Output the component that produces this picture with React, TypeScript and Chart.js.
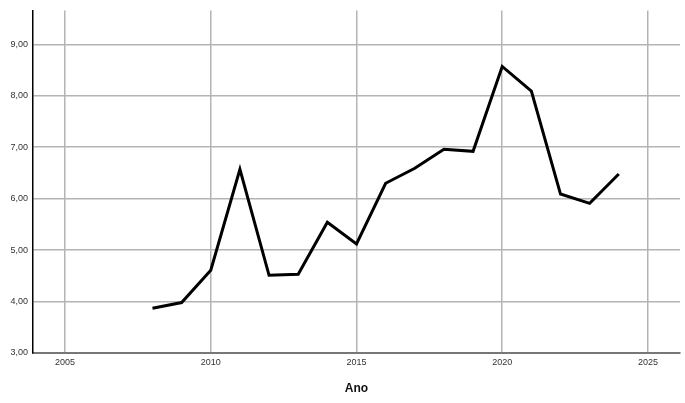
import React, { useEffect, useRef } from "react";
import { Chart, registerables } from "chart.js";

Chart.register(...registerables);

const years = [2008, 2009, 2010, 2011, 2012, 2013, 2014, 2015, 2016, 2017, 2018, 2019, 2020, 2021, 2022, 2023, 2024];
const values = [3.87, 3.98, 4.61, 6.57, 4.51, 4.53, 5.54, 5.12, 6.30, 6.59, 6.96, 6.92, 8.57, 8.09, 6.09, 5.91, 6.48];
const xTicks = [2005, 2010, 2015, 2020, 2025];
const yTicks = [3, 4, 5, 6, 7, 8, 9];
const xTitle = "Ano";

export default function App() {
  const ref = useRef<HTMLCanvasElement | null>(null);
  useEffect(() => {
    if (!ref.current) return;
    const chart = new Chart(ref.current, {
      type: "line",
      data: {
        datasets: [
          {
            data: years.map((y, i) => ({ x: y, y: values[i] })),
            borderColor: "#000",
            borderWidth: 3,
            pointRadius: 0,
            tension: 0,
            fill: false,
          },
        ],
      },
      options: {
        animation: false,
        responsive: false,
        layout: { padding: { top: 10, right: 5, left: 0, bottom: 3 } },
        plugins: { legend: { display: false }, tooltip: { enabled: false } },
        scales: {
          x: {
            type: "linear",
            min: 2003.9,
            max: 2026.1,
            afterBuildTicks: (s: any) => {
              s.ticks = xTicks.map((v) => ({ value: v }));
            },
            afterFit: (s: any) => {
              s.height = 47;
            },
            ticks: {
              callback: (v: any) => String(v),
              color: "#333",
              font: { family: "Liberation Sans", size: 9 },
              padding: 4,
              maxRotation: 0,
            },
            grid: { color: "#b4b4b4", lineWidth: 1.5, drawTicks: false },
            border: { color: "#777", width: 2 },
            title: {
              display: true,
              text: xTitle,
              color: "#111",
              font: { family: "Liberation Sans", size: 12, weight: "bold" },
              padding: { top: 10 },
            },
          },
          y: {
            type: "linear",
            min: 3,
            max: 9.66,
            afterBuildTicks: (s: any) => {
              s.ticks = yTicks.map((v) => ({ value: v }));
            },
            afterFit: (s: any) => {
              s.width = 33;
            },
            ticks: {
              callback: (v: any) => Number(v).toFixed(2).replace(".", ","),
              color: "#333",
              font: { family: "Liberation Sans", size: 9 },
              padding: 5,
            },
            grid: { color: "#b4b4b4", lineWidth: 1.5, drawTicks: false },
            border: { color: "#000", width: 1.5 },
          },
        },
      },
    });
    return () => chart.destroy();
  }, []);
  return (
    <div style={{ position: "fixed", left: 0, top: 0, width: 685, height: 403, background: "#fff" }}>
      <canvas ref={ref} width={685} height={403} style={{ width: 685, height: 403 }} />
    </div>
  );
}
